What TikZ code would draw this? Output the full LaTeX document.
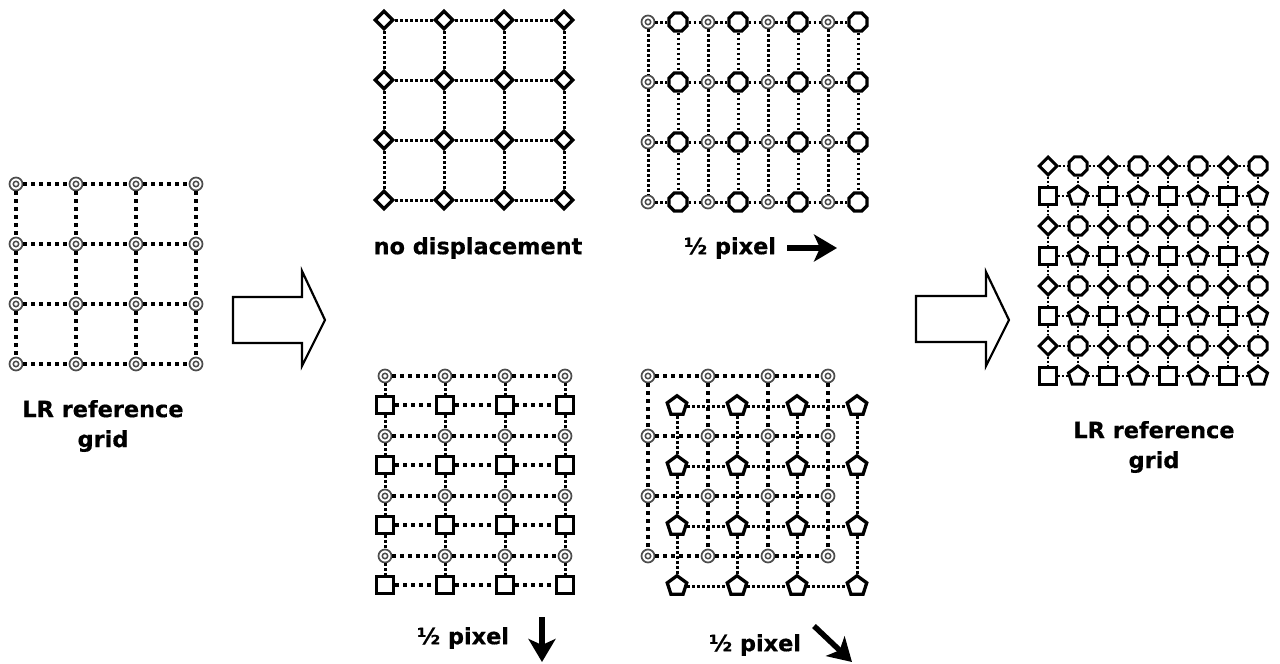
\documentclass[tikz,border=0pt]{standalone}
\usepackage{fontspec}
\setmainfont{DejaVu Sans}[BoldFeatures={FakeBold=0.6}]
\usetikzlibrary{shapes.geometric,arrows.meta}
\begin{document}
\begin{tikzpicture}[x=1pt,y=-1pt,
 dc/.style={circle,draw=black!70,line width=1.7,fill=white,minimum size=13,inner sep=0,
   path picture={\draw[black!70,line width=1.5] (path picture bounding box.center) circle[radius=2.7];}},
 dm/.style={diamond,draw,line width=3.4,fill=white,minimum size=19,inner sep=0},
 oc/.style={regular polygon,regular polygon sides=8,draw,line width=3.3,fill=white,minimum size=19.5,inner sep=0},
 sq/.style={rectangle,draw,line width=3.3,fill=white,minimum size=17.5,inner sep=0},
 pg/.style={regular polygon,regular polygon sides=5,draw,line width=3.3,fill=white,minimum size=20.5,inner sep=0},
 dm2/.style={dm,minimum size=19,line width=3},
 oc2/.style={oc,minimum size=19.5,line width=3},
 sq2/.style={sq,minimum size=17.5,line width=3},
 pg2/.style={pg,minimum size=20,line width=3},
 dl/.style={line width=3.6,dash pattern=on 3.6pt off 4.4pt},
 dd/.style={line width=3,dash pattern=on 2.6pt off 2.4pt},
 ds/.style={line width=2.8,dash pattern=on 2.2pt off 1.8pt},
 lbl/.style={font=\bfseries\fontsize{22.4}{30}\selectfont,align=center,inner sep=0},
 blk/.style={line width=2.2,line join=miter},
 sarr/.style={line width=5.5,-{Stealth[length=23pt,width=27pt,inset=6pt]}}
]
\useasboundingbox (0,0) rectangle (1280,664);

% ---------- left LR grid ----------
\foreach \i in {0,...,3} \foreach \j in {0,...,3}
  \node[dc] (l-\i-\j) at ({16+60*\i},{184+60*\j}) {};
\foreach \i in {0,1,2} \foreach \j in {0,...,3} {
  \pgfmathtruncatemacro\n{\i+1}
  \draw[dl] (l-\i-\j) -- (l-\n-\j);
  \draw[dl] (l-\j-\i) -- (l-\j-\n);
}
\node[lbl] (lt1) at (103,426) {LR reference\\grid};

% ---------- block arrows ----------
\draw[blk] (233,297) -- (302,297) -- (302,271) -- (325,320) -- (302,366) -- (302,343) -- (233,343) -- cycle;
\draw[blk] (916,296) -- (986,296) -- (986,272) -- (1009,320) -- (986,366) -- (986,342) -- (916,342) -- cycle;

% ---------- no displacement ----------
\foreach \i in {0,...,3} \foreach \j in {0,...,3}
  \node[dm] (a-\i-\j) at ({384+60*\i},{20+60*\j}) {};
\foreach \i in {0,1,2} \foreach \j in {0,...,3} {
  \pgfmathtruncatemacro\n{\i+1}
  \draw[dd] (a-\i-\j) -- (a-\n-\j);
  \draw[dd] (a-\j-\i) -- (a-\j-\n);
}
\node[lbl] (t1) at (478,248) {no displacement};

% ---------- half pixel right ----------
\foreach \k in {0,2,4,6} \foreach \j in {0,...,3} {
  \pgfmathtruncatemacro\m{\k+1}
  \node[dc] (b-\k-\j) at ({648+30*\k},{22+60*\j}) {};
  \node[oc] (b-\m-\j) at ({648+30*\m},{22+60*\j}) {};
}
\foreach \k in {0,...,6} \foreach \j in {0,...,3} {
  \pgfmathtruncatemacro\n{\k+1}
  \draw[dd] (b-\k-\j) -- (b-\n-\j);
}
\foreach \k in {0,...,7} \foreach \j in {0,1,2} {
  \pgfmathtruncatemacro\n{\j+1}
  \draw[dd] (b-\k-\j) -- (b-\k-\n);
}
\node[lbl] (t2) at (730,248) {½ pixel};
\coordinate (t2a) at (787,248);
\coordinate (t2b) at (837,248);
\draw[sarr] (t2a) -- (t2b);

% ---------- half pixel down ----------
\foreach \i in {0,...,3} \foreach \k in {0,2,4,6} {
  \pgfmathtruncatemacro\m{\k+1}
  \node[dc] (c-\i-\k) at ({385+60*\i},{376+30*\k}) {};
  \node[sq] (c-\i-\m) at ({385+60*\i},{375+30*\m}) {};
}
\foreach \i in {0,...,3} \foreach \k in {0,...,6} {
  \pgfmathtruncatemacro\n{\k+1}
  \draw[dd] (c-\i-\k) -- (c-\i-\n);
}
\foreach \i in {0,1,2} \foreach \k in {0,...,7} {
  \pgfmathtruncatemacro\n{\i+1}
  \draw[dl] (c-\i-\k) -- (c-\n-\k);
}
\node[lbl] (t3) at (463,638) {½ pixel};
\coordinate (t3a) at (542,617);
\coordinate (t3b) at (542,662);
\draw[sarr] (t3a) -- (t3b);

% ---------- half pixel diagonal ----------
\foreach \i in {0,...,3} \foreach \j in {0,...,3} {
  \node[dc] (d-\i-\j) at ({648+60*\i},{376+60*\j}) {};
  \node[pg] (p-\i-\j) at ({677+60*\i},{406+60*\j}) {};
}
\foreach \i in {0,1,2} \foreach \j in {0,...,3} {
  \pgfmathtruncatemacro\n{\i+1}
  \draw[dl] (d-\i-\j) -- (d-\n-\j);
  \draw[dl] (d-\j-\i) -- (d-\j-\n);
  \draw[dd] (p-\i-\j) -- (p-\n-\j);
  \draw[dd] (p-\j-\i) -- (p-\j-\n);
}
\node[lbl] (t4) at (755,645) {½ pixel};
\coordinate (t4a) at (814,626);
\coordinate (t4b) at (852,662);
\draw[sarr] (t4a) -- (t4b);

% ---------- combined grid ----------
\foreach \i in {0,2,4,6} \foreach \j in {0,2,4,6} {
  \pgfmathtruncatemacro\ii{\i+1}
  \pgfmathtruncatemacro\jj{\j+1}
  \node[dm2] (e-\i-\j) at ({1048+30*\i},{166+30*\j}) {};
  \node[oc2] (e-\ii-\j) at ({1048+30*\ii},{166+30*\j}) {};
  \node[sq2] (e-\i-\jj) at ({1048+30*\i},{166+30*\jj}) {};
  \node[pg2] (e-\ii-\jj) at ({1048+30*\ii},{166+30*\jj}) {};
}
\foreach \i in {0,...,6} \foreach \j in {0,...,7} {
  \pgfmathtruncatemacro\n{\i+1}
  \draw[ds] (e-\i-\j) -- (e-\n-\j);
  \draw[ds] (e-\j-\i) -- (e-\j-\n);
}
\node[lbl] (rt1) at (1154,447) {LR reference\\grid};
\end{tikzpicture}
\end{document}
